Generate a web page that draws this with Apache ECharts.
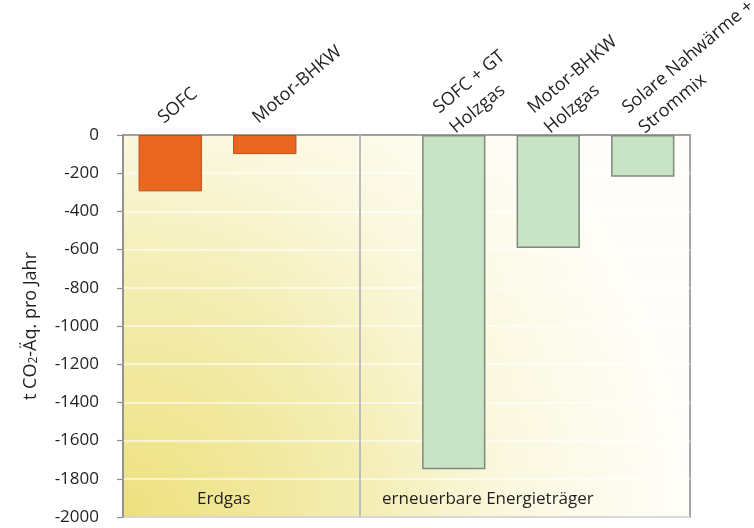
<!DOCTYPE html>
<html>
<head>
<meta charset="utf-8">
<script src="https://cdn.jsdelivr.net/npm/echarts@6/dist/echarts.min.js"></script>
<style>html,body{margin:0;padding:0;background:#fff;}#c{width:754px;height:528px;}</style>
</head>
<body>
<div id="c"></div>
<script>
const categories = ['SOFC', 'Motor-BHKW', '', 'SOFC + GT\nHolzgas', 'Motor-BHKW\nHolzgas', 'Solare Nahwärme +\nStrommix'];
const values = [-295, -100, null, -1750, -592, -218];
const groups = ['fossil', 'fossil', null, 'renew', 'renew', 'renew'];
const yTicks = { min: -2000, max: 0, interval: 200 };
const groupLabels = ['Erdgas', 'erneuerbare Energieträger'];

const FONT = 'Open Sans';
const styles = {
  fossil: { color: '#EA671F', borderColor: '#B5501A', borderWidth: 1 },
  renew: { color: '#C8E3C6', borderColor: '#7E8A7C', borderWidth: 1.5 }
};

const chart = echarts.init(document.getElementById('c'));
chart.setOption({
  animation: false,
  textStyle: { fontFamily: FONT },
  grid: {
    left: 123, right: 64, top: 135, bottom: 11,
    outerBoundsMode: 'none',
    containLabel: false,
    show: true,
    borderColor: '#8C8C8C', borderWidth: 1.5,
    backgroundColor: new echarts.graphic.RadialGradient(0, 1, 1.5, [
      { offset: 0, color: '#EEE07E' },
      { offset: 0.4, color: '#F3EDB0' },
      { offset: 0.68, color: '#FBF8E0' },
      { offset: 1, color: '#FFFEFA' }
    ])
  },
  xAxis: {
    type: 'category',
    position: 'top',
    data: categories,
    axisLine: { show: true, lineStyle: { color: '#8C8C8C', width: 1.5 } },
    axisTick: { show: false },
    axisLabel: {
      interval: 0, rotate: 40, fontSize: 18, color: '#231F20', fontFamily: FONT,
      margin: -11, lineHeight: 26, align: 'left', verticalAlign: 'middle',
      formatter: v => v.split('\n').map(l => l ? '  ' + l : l).join('\n') + '\n\n'
    }
  },
  yAxis: {
    type: 'value',
    min: yTicks.min, max: yTicks.max, interval: yTicks.interval,
    name: 't CO{sub|2}-Äq. pro Jahr',
    nameLocation: 'middle',
    nameGap: 83,
    nameRotate: 90,
    nameTextStyle: {
      fontSize: 18, color: '#231F20', fontFamily: FONT,
      rich: { sub: { fontSize: 12, verticalAlign: 'bottom', padding: [7, 0, 0, 0], color: '#231F20', fontFamily: FONT } }
    },
    axisLine: { show: true, lineStyle: { color: '#8C8C8C', width: 1.5 } },
    axisTick: { show: true, length: 6, lineStyle: { color: '#8C8C8C', width: 1.2 } },
    axisLabel: { fontSize: 17, color: '#231F20', margin: 24, fontFamily: FONT, formatter: v => String(v) },
    splitLine: { show: true, lineStyle: { color: 'rgba(255,255,255,0.75)', width: 1.5 } }
  },
  series: [{
    type: 'bar',
    barWidth: '67%',
    data: values.map((v, i) => groups[i] ? { value: v, itemStyle: styles[groups[i]] } : null),
    markLine: {
      silent: true,
      symbol: 'none',
      label: { show: false },
      lineStyle: { color: '#BDBDBD', width: 2, type: 'solid' },
      data: [{ xAxis: 2 }]
    }
  }],
  graphic: [
    { type: 'text', left: 197, top: 491, style: { text: groupLabels[0], fontSize: 17, fill: '#231F20', fontFamily: FONT } },
    { type: 'text', left: 382, top: 491, style: { text: groupLabels[1], fontSize: 17, fill: '#231F20', fontFamily: FONT } }
  ]
});
</script>
</body>
</html>
